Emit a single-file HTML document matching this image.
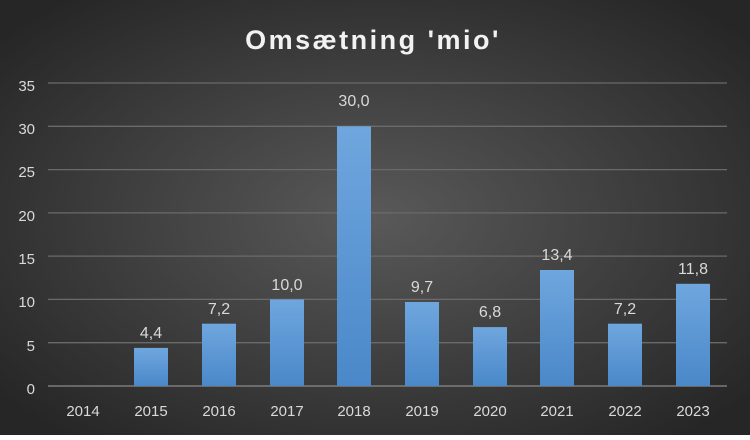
<!DOCTYPE html>
<html><head><meta charset="utf-8"><style>
body{margin:0;width:750px;height:435px;overflow:hidden;}
</style></head><body>
<svg width="750" height="435" xmlns="http://www.w3.org/2000/svg" font-family="Liberation Sans, sans-serif">
<defs>
<radialGradient id="bg" cx="50%" cy="50%" r="65%">
<stop offset="0" stop-color="#595959"/><stop offset="1" stop-color="#262626"/>
</radialGradient>
<linearGradient id="bar" x1="0" y1="0" x2="0" y2="1">
<stop offset="0" stop-color="#6fa6de"/><stop offset="1" stop-color="#4a88c9"/>
</linearGradient>
</defs>
<rect width="750" height="435" fill="url(#bg)"/>
<text x="373" y="49" text-anchor="middle" fill="#f2f2f2" font-size="27" font-weight="bold" letter-spacing="2.5">Omsætning 'mio'</text>
<g stroke="#6a6a6a" stroke-width="1.3">
<line x1="48" x2="727" y1="83" y2="83"/><line x1="48" x2="727" y1="126.3" y2="126.3"/>
<line x1="48" x2="727" y1="169.6" y2="169.6"/><line x1="48" x2="727" y1="212.9" y2="212.9"/>
<line x1="48" x2="727" y1="256.1" y2="256.1"/><line x1="48" x2="727" y1="299.4" y2="299.4"/>
<line x1="48" x2="727" y1="342.7" y2="342.7"/>
</g>
<line x1="48" x2="727" y1="386" y2="386" stroke="#8a8a8a" stroke-width="1.3"/>
<g fill="#d9d9d9" font-size="15" text-anchor="end">
<text x="35" y="91">35</text><text x="35" y="134">30</text><text x="35" y="177">25</text>
<text x="35" y="221">20</text><text x="35" y="264">15</text><text x="35" y="307">10</text>
<text x="35" y="351">5</text><text x="35" y="394">0</text>
</g>
<g fill="url(#bar)">
<rect x="134" y="347.9" width="34" height="38.1"/>
<rect x="202" y="323.7" width="34" height="62.3"/>
<rect x="270" y="299.4" width="34" height="86.6"/>
<rect x="337" y="126.3" width="34" height="259.7"/>
<rect x="405" y="302" width="34" height="84"/>
<rect x="473" y="327.1" width="34" height="58.9"/>
<rect x="540" y="270" width="34" height="116"/>
<rect x="608" y="323.7" width="34" height="62.3"/>
<rect x="676" y="283.8" width="34" height="102.2"/>
</g>
<g fill="#d9d9d9" font-size="16" text-anchor="middle">
<text x="151" y="338">4,4</text><text x="219" y="314">7,2</text><text x="287" y="290">10,0</text>
<text x="354" y="106">30,0</text><text x="422" y="292">9,7</text><text x="490" y="317">6,8</text>
<text x="557" y="260">13,4</text><text x="625" y="314">7,2</text><text x="693" y="274">11,8</text>
</g>
<g fill="#d9d9d9" font-size="15" text-anchor="middle">
<text x="83" y="416">2014</text><text x="151" y="416">2015</text><text x="219" y="416">2016</text>
<text x="287" y="416">2017</text><text x="354" y="416">2018</text><text x="422" y="416">2019</text>
<text x="490" y="416">2020</text><text x="557" y="416">2021</text><text x="625" y="416">2022</text>
<text x="693" y="416">2023</text>
</g>
</svg>
</body></html>
